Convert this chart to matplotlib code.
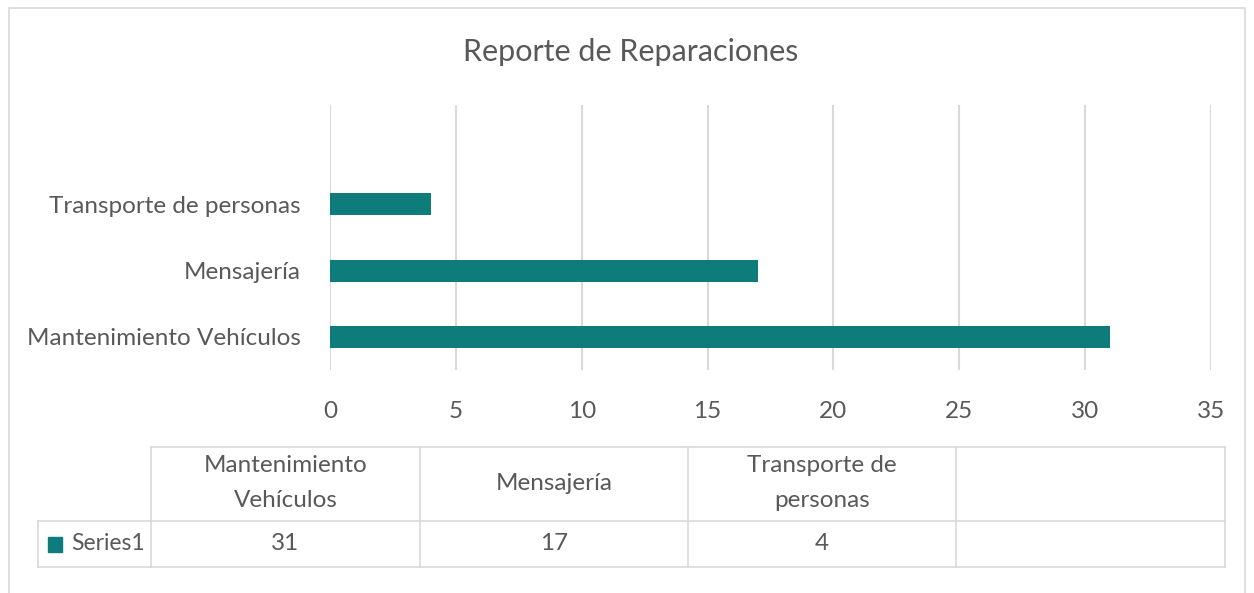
import matplotlib
matplotlib.use("Agg")
import matplotlib.pyplot as plt
from matplotlib.lines import Line2D
from matplotlib.patches import Rectangle

# data
categories = ["Mantenimiento Vehículos", "Mensajería", "Transporte de personas"]
values = [31, 17, 4]
table_headers = ["Mantenimiento\nVehículos", "Mensajería", "Transporte de\npersonas", ""]
series_name = "Series1"
title = "Reporte de Reparaciones"

BAR = "#0E7C7B"
GRID = "#D9D9D9"
TXT = "#595959"
plt.rcParams["font.family"] = ["Lato", "DejaVu Sans"]

W, H = 1254, 593
fig = plt.figure(figsize=(W / 100, H / 100), dpi=100)

def fx(px):
    return px / W

def fy(py):
    return 1 - py / H

# outer frame
fig.patches.append(Rectangle((fx(9), fy(620)), fx(1236), fy(8) - fy(620),
                             transform=fig.transFigure, fill=False,
                             edgecolor=GRID, linewidth=1.2))

ax = fig.add_axes([fx(330), fy(370), fx(1211) - fx(330), fy(105) - fy(370)])
ypos = list(range(len(categories)))
ax.barh(ypos, values, height=0.33, color=BAR, zorder=3)
ax.set_xlim(0, 35)
ax.set_ylim(-0.5, 3.5)
ax.set_xticks(range(0, 36, 5))
ax.set_yticks(ypos)
ax.set_yticklabels(categories)
ax.grid(True, axis="x", color=GRID, linewidth=1.5, zorder=0)
for s in ax.spines.values():
    s.set_visible(False)
ax.tick_params(axis="both", length=0, labelsize=17.5, labelcolor=TXT)
ax.tick_params(axis="x", pad=22)
ax.tick_params(axis="y", pad=21)

fig.text(fx(631), fy(52), title, ha="center", va="center", fontsize=22, color=TXT)

# data table under the chart
col_edges = [151, 420, 688, 956, 1225]
top, mid, bot = 447, 521, 567
lw = 1.2
fig.lines.append(Line2D([fx(151), fx(1225)], [fy(top), fy(top)], transform=fig.transFigure, color=GRID, lw=lw))
fig.lines.append(Line2D([fx(38), fx(1225)], [fy(mid), fy(mid)], transform=fig.transFigure, color=GRID, lw=lw))
fig.lines.append(Line2D([fx(38), fx(1225)], [fy(bot), fy(bot)], transform=fig.transFigure, color=GRID, lw=lw))
fig.lines.append(Line2D([fx(38), fx(38)], [fy(mid), fy(bot)], transform=fig.transFigure, color=GRID, lw=lw))
for x in col_edges:
    fig.lines.append(Line2D([fx(x), fx(x)], [fy(top), fy(bot)], transform=fig.transFigure, color=GRID, lw=lw))

cells = values + [""]
for i, (hdr, val) in enumerate(zip(table_headers, cells)):
    cx = (col_edges[i] + col_edges[i + 1]) / 2
    fig.text(fx(cx), fy((top + mid) / 2 - 1), hdr, ha="center", va="center",
             fontsize=17.5, color=TXT, linespacing=1.85)
    fig.text(fx(cx), fy((mid + bot) / 2), str(val), ha="center", va="center",
             fontsize=17.5, color=TXT)

fig.patches.append(Rectangle((fx(48), fy(552)), fx(14), fy(537) - fy(552),
                             transform=fig.transFigure, color=BAR))
fig.text(fx(71), fy(544), series_name, ha="left", va="center", fontsize=16.5, color=TXT)

fig.savefig("out.png", dpi=100)
